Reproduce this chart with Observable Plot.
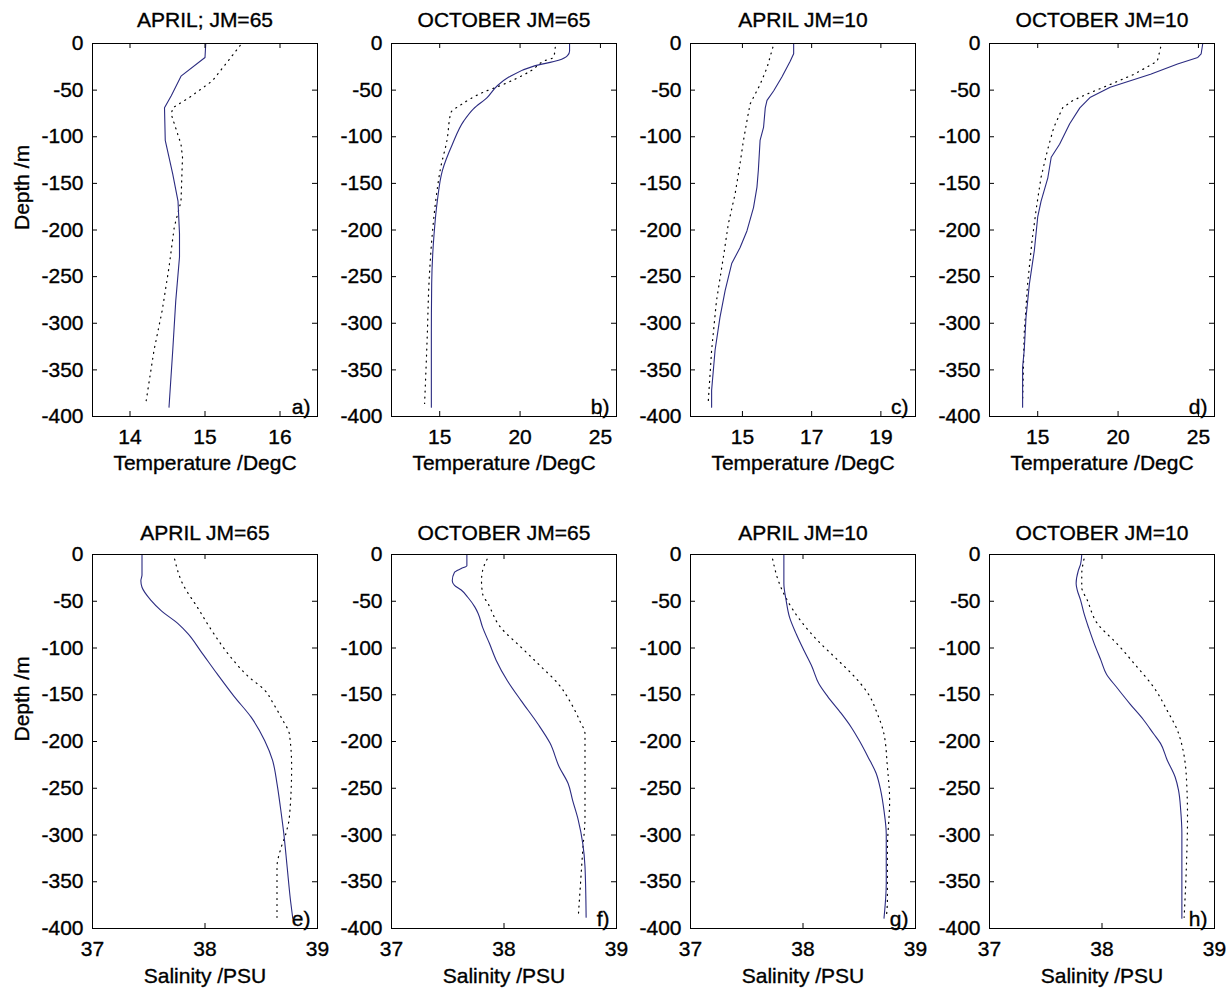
<!DOCTYPE html>
<html><head><meta charset="utf-8">
<script src="https://cdn.jsdelivr.net/npm/d3@7"></script>
<script src="https://cdn.jsdelivr.net/npm/@observablehq/plot@0.6"></script>
<style>
body{margin:0;background:#fff;}
#chart{position:relative;width:1231px;height:991px;background:#fff;}
#chart svg{position:absolute;}
#chart svg text{stroke:#000;stroke-width:0.35px;}
</style></head><body><div id="chart"></div>
<script>
// ---- tick labels ----
const depthTicks = [0, -50, -100, -150, -200, -250, -300, -350, -400];
const tempTicksA = [14, 15, 16];
const tempTicksB = [15, 20, 25];
const tempTicksC = [15, 17, 19];
const tempTicksD = [15, 20, 25];
const salTicks = [37, 38, 39];

// ---- panel titles ----
const titles = ["APRIL; JM=65", "OCTOBER JM=65", "APRIL JM=10", "OCTOBER JM=10",
                "APRIL JM=65", "OCTOBER JM=65", "APRIL JM=10", "OCTOBER JM=10"];
const panelIds = ["a", "b", "c", "d", "e", "f", "g", "h"];

// ---- a) temperature, April JM=65 ----
const aSolidDepth = [0,-15,-35,-56,-69,-104,-140,-169,-204,-229,-276,-329,-390];
const aSolidVal   = [15.01,15.0,14.68,14.55,14.46,14.47,14.57,14.64,14.66,14.66,14.61,14.57,14.52];
const aDotDepth   = [-2,-40,-58,-69,-76,-108,-122,-169,-197,-240,-286,-329,-386];
const aDotVal     = [15.47,15.1,14.79,14.57,14.55,14.68,14.7,14.68,14.59,14.52,14.43,14.32,14.21];

// ---- b) temperature, October JM=65 ----
const bSolidDepth = [0,-8,-13,-18,-24,-36,-45,-58,-70,-83,-108,-136,-169,-204,-258,-311,-390];
const bSolidVal   = [23.08,23.08,22.95,22.4,20.9,19.3,18.6,17.95,17.1,16.5,15.79,15.17,14.85,14.65,14.5,14.48,14.48];
const bDotDepth   = [-4,-15,-18,-29,-45,-52,-66,-74,-104,-133,-169,-204,-258,-311,-386];
const bDotVal     = [22.19,22.08,21.6,20.7,18.8,17.75,16.3,15.7,15.45,15.06,14.75,14.54,14.33,14.23,14.06];

// ---- c) temperature, April JM=10 ----
const cSolidDepth = [0,-11,-19,-36,-51,-61,-69,-90,-104,-136,-154,-176,-201,-219,-236,-265,-294,-329,-372,-390];
const cSolidVal   = [16.48,16.48,16.38,16.14,15.9,15.71,15.66,15.61,15.51,15.46,15.42,15.32,15.13,14.93,14.69,14.5,14.35,14.21,14.11,14.11];
const cDotDepth   = [-4,-26,-44,-65,-83,-104,-129,-161,-194,-229,-276,-329,-386];
const cDotVal     = [15.88,15.71,15.51,15.22,15.13,15.03,14.93,14.79,14.59,14.45,14.25,14.11,14.01];

// ---- d) temperature, October JM=10 ----
const dSolidDepth = [0,-11,-15,-22,-33,-47,-58,-69,-86,-108,-122,-144,-169,-186,-222,-258,-294,-329,-347,-390];
const dSolidVal   = [25.27,25.17,24.96,23.7,22.02,19.51,18.25,17.62,16.99,16.36,15.84,15.63,15.21,15.0,14.79,14.48,14.27,14.16,14.06,14.06];
const dDotDepth   = [-4,-19,-33,-44,-54,-61,-69,-90,-115,-144,-176,-211,-258,-311,-383];
const dDotVal     = [22.65,22.44,21.0,19.5,18.1,17.2,16.55,16.0,15.6,15.2,14.92,14.65,14.37,14.16,14.06];

// ---- e) salinity, April JM=65 ----
const eSolidDepth = [0,-22,-28,-35,-49,-60,-74,-85,-103,-128,-152,-174,-199,-220,-245,-270,-298,-334,-370,-389];
const eSolidVal   = [37.44,37.44,37.43,37.44,37.52,37.61,37.76,37.85,37.96,38.11,38.26,38.41,38.53,38.6,38.64,38.67,38.7,38.73,38.76,38.78];
const eDotDepth   = [-5,-31,-56,-85,-110,-131,-145,-160,-177,-192,-227,-281,-298,-316,-334,-388];
const eDotVal     = [37.73,37.8,37.93,38.08,38.23,38.39,38.53,38.61,38.69,38.75,38.77,38.75,38.72,38.67,38.64,38.64];

// ---- f) salinity, October JM=65 ----
const fSolidDepth = [0,-12,-15,-19,-28,-33,-38,-46,-56,-63,-78,-95,-113,-135,-156,-181,-202,-227,-245,-263,-284,-309,-334,-388];
const fSolidVal   = [37.67,37.67,37.62,37.56,37.54,37.56,37.62,37.68,37.74,37.77,37.81,37.87,37.93,38.03,38.15,38.3,38.41,38.49,38.57,38.61,38.66,38.7,38.72,38.73];
const fDotDepth   = [-5,-17,-28,-42,-53,-78,-99,-120,-138,-160,-177,-192,-227,-281,-316,-352,-388];
const fDotVal     = [37.85,37.81,37.8,37.81,37.86,37.97,38.15,38.33,38.48,38.6,38.67,38.72,38.72,38.72,38.7,38.68,38.66];

// ---- g) salinity, April JM=10 ----
const gSolidDepth = [0,-31,-49,-67,-85,-103,-120,-138,-152,-170,-185,-199,-217,-234,-252,-274,-299,-352,-389];
const gSolidVal   = [37.83,37.83,37.85,37.88,37.94,38.01,38.08,38.14,38.22,38.34,38.43,38.5,38.58,38.65,38.69,38.72,38.74,38.74,38.72];
const gDotDepth   = [-5,-31,-49,-71,-92,-113,-131,-149,-170,-192,-227,-263,-316,-370,-389];
const gDotVal     = [37.73,37.79,37.86,37.98,38.13,38.31,38.46,38.58,38.66,38.72,38.75,38.77,38.75,38.75,38.74];

// ---- h) salinity, October JM=10 ----
const hSolidDepth = [0,-10,-17,-31,-38,-49,-63,-78,-95,-113,-128,-142,-160,-177,-192,-202,-220,-238,-252,-274,-298,-389];
const hSolidVal   = [37.82,37.81,37.79,37.77,37.78,37.81,37.84,37.88,37.93,37.99,38.04,38.13,38.25,38.37,38.46,38.52,38.58,38.65,38.68,38.7,38.71,38.71];
const hDotDepth   = [-5,-21,-35,-49,-74,-95,-120,-142,-167,-188,-209,-238,-281,-334,-388];
const hDotVal     = [37.84,37.82,37.82,37.87,37.96,38.13,38.31,38.46,38.58,38.67,38.72,38.75,38.76,38.75,38.73];

// ---- build panel configs ----
const zip = (ds, vs) => ds.map((d, i) => ({d, v: vs[i]}));
const tempLabel = "Temperature /DegC";
const salLabel = "Salinity /PSU";
const panels = [
  {xDomain: [13.5, 16.5], xTicks: tempTicksA, xLabel: tempLabel, curve: "linear",     solid: zip(aSolidDepth, aSolidVal), dotted: zip(aDotDepth, aDotVal)},
  {xDomain: [12, 26],     xTicks: tempTicksB, xLabel: tempLabel, curve: "monotone-y", solid: zip(bSolidDepth, bSolidVal), dotted: zip(bDotDepth, bDotVal)},
  {xDomain: [13.5, 20],   xTicks: tempTicksC, xLabel: tempLabel, curve: "linear",     solid: zip(cSolidDepth, cSolidVal), dotted: zip(cDotDepth, cDotVal)},
  {xDomain: [12, 26],     xTicks: tempTicksD, xLabel: tempLabel, curve: "linear",     solid: zip(dSolidDepth, dSolidVal), dotted: zip(dDotDepth, dDotVal)},
  {xDomain: [37, 39],     xTicks: salTicks,   xLabel: salLabel,  curve: "monotone-y", solid: zip(eSolidDepth, eSolidVal), dotted: zip(eDotDepth, eDotVal)},
  {xDomain: [37, 39],     xTicks: salTicks,   xLabel: salLabel,  curve: "monotone-y", solid: zip(fSolidDepth, fSolidVal), dotted: zip(fDotDepth, fDotVal)},
  {xDomain: [37, 39],     xTicks: salTicks,   xLabel: salLabel,  curve: "monotone-y", solid: zip(gSolidDepth, gSolidVal), dotted: zip(gDotDepth, gDotVal)},
  {xDomain: [37, 39],     xTicks: salTicks,   xLabel: salLabel,  curve: "monotone-y", solid: zip(hSolidDepth, hSolidVal), dotted: zip(hDotDepth, hDotVal)}
];
panels.forEach((p, i) => { p.title = titles[i]; p.id = panelIds[i]; });

const chart = document.getElementById("chart");
const frameLefts = [92, 391, 690, 989];
const W = 225;

panels.forEach((p, i) => {
  const col = i % 4, row = Math.floor(i / 4);
  const H = row === 0 ? 373 : 374;
  const mL = 92, mR = 14, mT = row === 0 ? 43 : 54, mB = row === 0 ? 75 : 63;
  const svg = Plot.plot({
    width: mL + W + mR,
    height: mT + H + mB,
    marginLeft: mL, marginRight: mR, marginTop: mT, marginBottom: mB,
    x: {domain: p.xDomain, axis: null},
    y: {domain: [-400, 0], axis: null},
    style: {background: "transparent", overflow: "visible", fontFamily: "'Liberation Sans', Arial, sans-serif", fontSize: "21px", color: "black"},
    marks: [
      Plot.line(p.dotted, {x: "v", y: "d", curve: p.curve, stroke: "black", strokeWidth: 1.2, strokeDasharray: "1,5"}),
      Plot.line(p.solid, {x: "v", y: "d", curve: p.curve, stroke: "#2b2b80", strokeWidth: 1.1}),
      Plot.frame({stroke: "black", strokeWidth: 1}),
      Plot.tickY(depthTicks, {y: d => d, insetRight: W - 5, stroke: "black"}),
      Plot.tickY(depthTicks, {y: d => d, insetLeft: W - 5, stroke: "black"}),
      Plot.tickX(p.xTicks, {x: d => d, insetTop: H - 5, stroke: "black"}),
      Plot.tickX(p.xTicks, {x: d => d, insetBottom: H - 5, stroke: "black"}),
      Plot.axisY({ticks: depthTicks, tickSize: 0, tickPadding: 9, tickFormat: d => String(d), label: null, fill: "black"}),
      Plot.axisX({ticks: p.xTicks, tickSize: 0, tickPadding: 13, tickFormat: d => String(d), label: null, fill: "black"}),
      Plot.text([p.title], {text: d => d, frameAnchor: "top", dy: row === 0 ? -23 : -21, lineAnchor: "middle", fill: "black"}),
      Plot.text([p.xLabel], {text: d => d, frameAnchor: "bottom", dy: row === 0 ? 47 : 48, lineAnchor: "middle", fill: "black"}),
      col === 0 ? Plot.text(["Depth /m"], {text: d => d, frameAnchor: "left", dx: -70, rotate: -90, lineAnchor: "middle", fill: "black"}) : null,
      Plot.text([p.id + ")"], {text: d => d, frameAnchor: "bottom-right", dx: -7, dy: -3, textAnchor: "end", lineAnchor: "bottom", fill: "black"})
    ]
  });
  svg.style.left = (frameLefts[col] - mL) + "px";
  svg.style.top = (row === 0 ? 0 : 500) + "px";
  chart.appendChild(svg);
});
</script>
</body></html>
